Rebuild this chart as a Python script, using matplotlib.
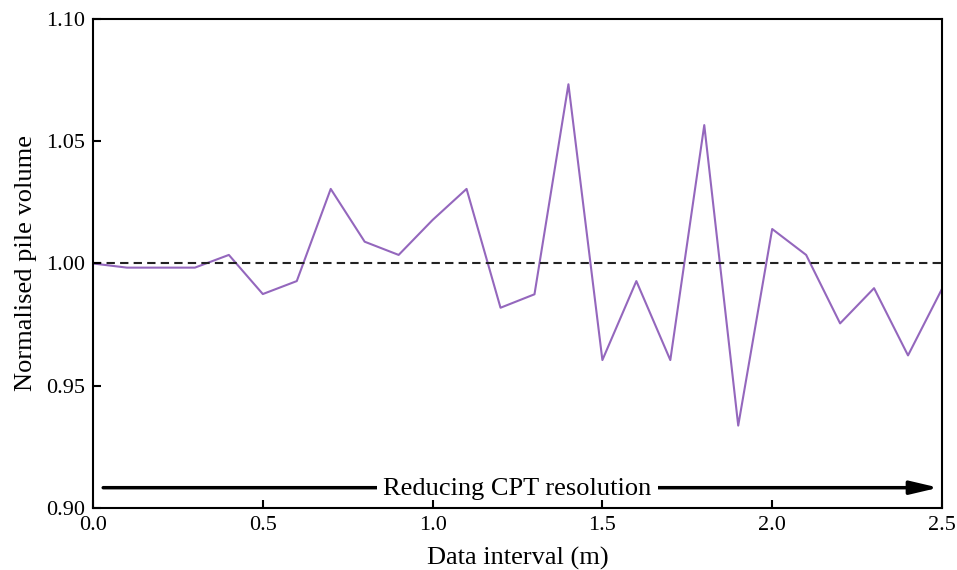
import matplotlib as mpl
mpl.use('Agg')
import matplotlib.pyplot as plt

# data interval (m) vs normalised pile volume
interval = [0.0, 0.1, 0.2, 0.3, 0.4, 0.5, 0.6, 0.7, 0.8, 0.9, 1.0, 1.1, 1.2,
            1.3, 1.4, 1.5, 1.6, 1.7, 1.8, 1.9, 2.0, 2.1, 2.2, 2.3, 2.4, 2.5]
volume = [1.000, 0.9983, 0.9983, 0.9983, 1.0035, 0.9875, 0.9928, 1.0305,
          1.0089, 1.0035, 1.0178, 1.0305, 0.9819, 0.9874, 1.0733, 0.9605,
          0.9928, 0.9605, 1.0566, 0.9337, 1.0141, 1.0035, 0.9755, 0.9899,
          0.9624, 0.9896]
xticks = [0.0, 0.5, 1.0, 1.5, 2.0, 2.5]
yticks = [0.90, 0.95, 1.00, 1.05, 1.10]

plt.rcParams['font.family'] = ['Liberation Serif', 'DejaVu Serif']
plt.rcParams['mathtext.fontset'] = 'stix'

fig = plt.figure(figsize=(9.57, 5.7), dpi=100)
ax = fig.add_axes([0.0972, 0.1088, 0.8871, 0.8579])
ax.set_axisbelow(False)

ax.plot(interval, volume, color='#9467bd', lw=1.5)
ax.axhline(1.0, color='#222222', lw=1.5, ls=(0, (4, 2.5)))

ax.set_xlim(0, 2.5)
ax.set_ylim(0.90, 1.10)
ax.set_xticks(xticks)
ax.set_yticks(yticks)
ax.set_xticklabels(['%.1f' % v for v in xticks])
ax.set_yticklabels(['%.2f' % v for v in yticks])
ax.tick_params(direction='in', length=6, width=1.5, labelsize=16)
ax.tick_params(axis='y', pad=6)
ax.tick_params(axis='x', pad=6)
for s in ax.spines.values():
    s.set_linewidth(1.5)
    s.set_zorder(5)

ax.set_xlabel('Data interval (m)', fontsize=19, labelpad=8)
ax.set_ylabel('Normalised pile volume', fontsize=19, labelpad=6)

# arrow with text along the bottom
ax.annotate('', xy=(2.49, 0.9083), xytext=(0.03, 0.9083), zorder=2,
            arrowprops=dict(arrowstyle='-|>,head_length=0.85,head_width=0.2',
                            lw=2.5, color='k', mutation_scale=20,
                            shrinkA=0, shrinkB=0))
ax.text(1.25, 0.9078, 'Reducing CPT resolution', ha='center', va='center',
        fontsize=19, zorder=2.2,
        bbox=dict(boxstyle='square,pad=0.25', fc='white', ec='none'))

fig.savefig('out.png', dpi=100)
plt.close()
